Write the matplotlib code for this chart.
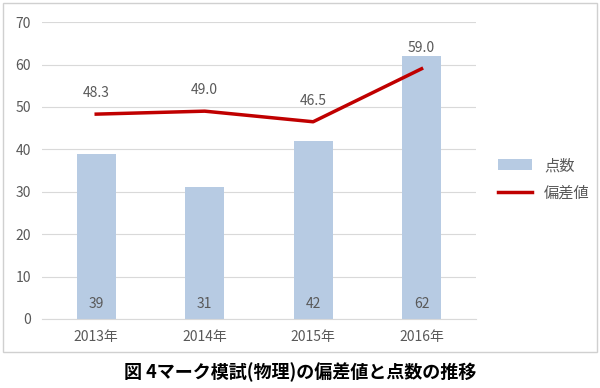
import matplotlib.pyplot as plt
from matplotlib.patches import Rectangle

plt.rcParams['font.family'] = ['Noto Sans CJK JP', 'DejaVu Sans']

years = ['2013年', '2014年', '2015年', '2016年']
score = [39, 31, 42, 62]
hensachi = [48.3, 49.0, 46.5, 59.0]

bar_color = '#b7cbe3'
line_color = '#c00000'
txt = '#595959'

fig = plt.figure(figsize=(6, 3.88), dpi=100)
ax = fig.add_axes([0.07, 0.178, 0.723, 0.765])

x = range(len(years))
bars = ax.bar(x, score, width=0.36, color=bar_color, label='点数', zorder=2)
line, = ax.plot(x, hensachi, color=line_color, lw=2.5, label='偏差値', zorder=3)

for i, v in enumerate(score):
    ax.text(i, 3.6, str(v), ha='center', va='center', fontsize=10, color=txt, zorder=4)
for i, v in enumerate(hensachi):
    ax.text(i, v + 3.3, f'{v:.1f}', ha='center', va='bottom', fontsize=10, color=txt, zorder=4)

ax.set_ylim(0, 70)
ax.set_xlim(-0.5, 3.5)
ax.set_yticks(range(0, 71, 10))
ax.set_xticks(list(x))
ax.set_xticklabels(years)
ax.tick_params(axis='both', length=0, colors=txt, labelsize=10)
ax.tick_params(axis='x', pad=8)
ax.tick_params(axis='y', pad=8)
ax.grid(axis='y', color='#d9d9d9', lw=0.8, zorder=0)
for s in ['top', 'right', 'left']:
    ax.spines[s].set_visible(False)
ax.spines['bottom'].set_color('#d9d9d9')

leg = ax.legend([bars, line], ['点数', '偏差値'], loc='center left',
                bbox_to_anchor=(1.02, 0.47), frameon=False,
                fontsize=11, handlelength=2.2, labelspacing=0.7)
for t in leg.get_texts():
    t.set_color(txt)

fig.patches.append(Rectangle((0.005, 0.093), 0.99, 0.9, transform=fig.transFigure,
                             fill=False, edgecolor='#d0d0d0', lw=1))

fig.text(0.5, 0.04, '図 4マーク模試(物理)の偏差値と点数の推移', ha='center', va='center',
         fontsize=13, fontweight='bold', color='black')

fig.savefig('out.png', dpi=100)
